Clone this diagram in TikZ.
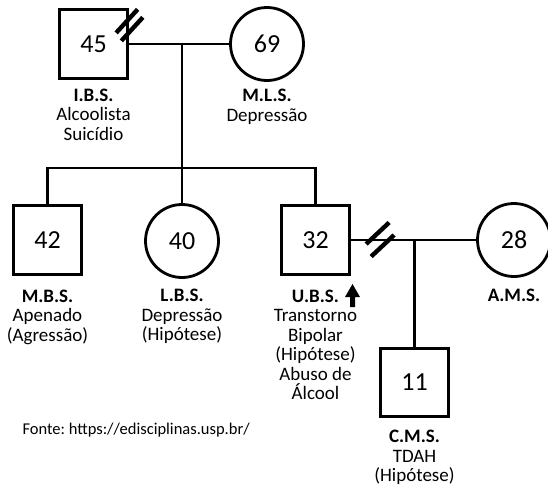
\documentclass[tikz,border=0pt]{standalone}
\usepackage{fontspec}
\setmainfont{Carlito}
\usetikzlibrary{arrows}
\frenchspacing

\tikzset{
  person/.style={draw,line width=2.8pt,inner sep=0pt,
    font=\fontsize{26}{30}\selectfont},
  male/.style={person,rectangle,minimum size=68.5pt},
  female/.style={person,circle,minimum size=73pt},
  info/.style={align=center,inner sep=0pt,
    font=\fontsize{19}{19.5}\selectfont},
  rel/.style={line width=2.8pt},
  divorce/.style={line width=4.4pt},
}

\begin{document}
\begin{tikzpicture}[x=1pt,y=-1pt,label distance=9pt]
    \useasboundingbox (0,0) rectangle (548,491);
    % grandparents
    \node[male,label={[info]below:{\textbf{I.B.S.}\\Alcoolista\\Suicídio}}] (ibs) at (93.5,44) {45};
    \node[female,label={[info,label distance=7pt]below:{\textbf{M.L.S.}\\Depressão}}] (mls) at (267,44) {69};
    \coordinate (c1) at (182,44);
    \coordinate (sib) at (182,168);
    % children
    \node[male,label={[info,label distance=14pt]below:{\textbf{M.B.S.}\\Apenado\\(Agressão)}}] (mbs) at (47.5,240) {42};
    \node[female,label={[info,label distance=10pt]below:{\textbf{L.B.S.}\\Depressão\\(Hipótese)}}] (lbs) at (182,241) {40};
    \node[male,label={[info,label distance=14pt]below:{\textbf{U.B.S.}\\Transtorno\\Bipolar\\(Hipótese)\\Abuso de\\Álcool}}] (ubs) at (315.5,240) {32};
    \node[female,label={[info,label distance=11pt]below:{\textbf{A.M.S.}}}] (ams) at (514,240) {28};
    \coordinate (c2) at (414.5,240);
    \node[male,label={[info,label distance=12pt]below:{\textbf{C.M.S.}\\TDAH\\(Hipótese)}}] (cms) at (414.5,382.5) {11};
    % lines
    \draw[rel] (ibs) -- (mls);
    \draw[rel] (c1) -- (lbs);
    \draw[rel] (mbs) |- (sib) -| (ubs);
    \draw[rel] (ubs) -- (ams);
    \draw[rel] (c2) -- (cms);
    % separations
    \draw[divorce] ([shift={(-13,24.5)}]ibs.north east) -- ++(21.5,-23.5);
    \draw[divorce] ([shift={(-7.8,32.5)}]ibs.north east) -- ++(21.5,-23.5);
    \draw[divorce] ([shift={(15,4)}]ubs.east) -- ++(23,-21.5);
    \draw[divorce] ([shift={(20,16.5)}]ubs.east) -- ++(23,-21.5);
    % index
    \fill (352.5,284) -- (360,297) -- (355,297) -- (355,307) -- (350,307)
      -- (350,297) -- (345,297) -- cycle;
    \node[anchor=west,font=\fontsize{16.5}{18}\selectfont] (src) at (19,430) {Fonte: https://edisciplinas.usp.br/};
\end{tikzpicture}
\end{document}
